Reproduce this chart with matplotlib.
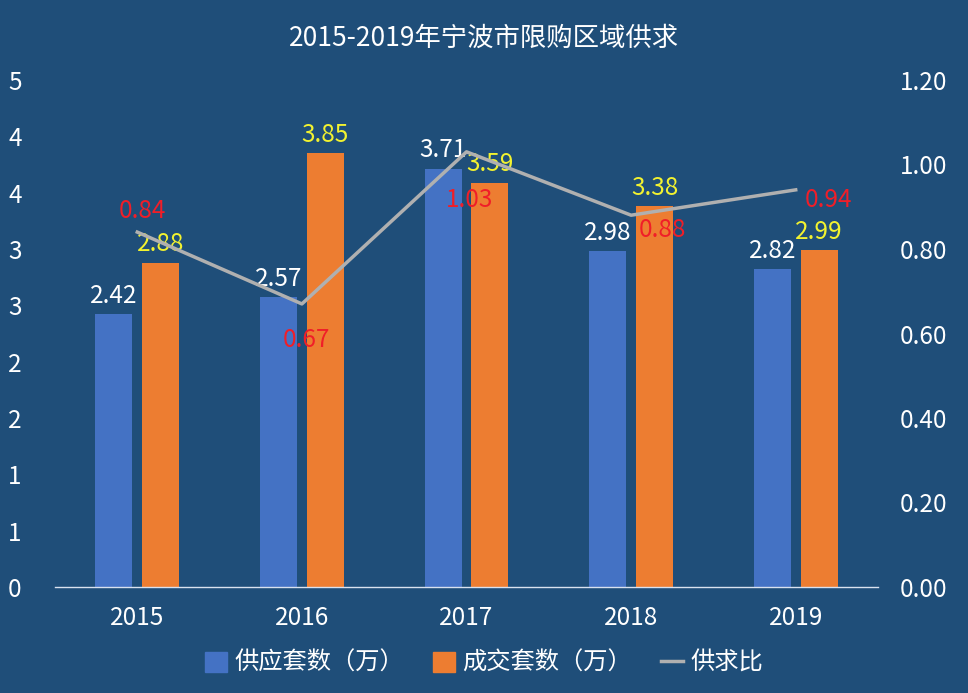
import numpy as np
import matplotlib.pyplot as plt
from matplotlib.ticker import FixedLocator, FuncFormatter
from matplotlib.lines import Line2D
from matplotlib.patches import Patch

plt.rcParams['font.family'] = ['Noto Sans CJK SC', 'DejaVu Sans']

# data
years = ['2015', '2016', '2017', '2018', '2019']
supply = [2.42, 2.57, 3.71, 2.98, 2.82]   # 供应套数（万）
deals = [2.88, 3.85, 3.59, 3.38, 2.99]    # 成交套数（万）
ratio = [0.84, 0.67, 1.03, 0.88, 0.94]    # 供求比
left_ticks = [0, 0.5, 1, 1.5, 2, 2.5, 3, 3.5, 4, 4.5]
right_ticks = [0, 0.2, 0.4, 0.6, 0.8, 1.0, 1.2]

bg = '#1f4e79'
c_blue = '#4472c4'
c_orange = '#ed7d31'
c_line = '#b0b0b0'
c_yellow = '#f2f230'
c_red = '#f01e28'
fs = 17.5

fig = plt.figure(figsize=(9.68, 6.93), dpi=100, facecolor=bg)
ax = fig.add_axes([55/968, 1 - 587/693, (878 - 55)/968, (587 - 80)/693])
ax.set_facecolor(bg)
ax2 = ax.twinx()

x = np.arange(len(years))
w = 0.224
off = 0.142
ax.bar(x - off, supply, w, color=c_blue, zorder=2)
ax.bar(x + off, deals, w, color=c_orange, zorder=2)

ax.set_xlim(-0.5, len(years) - 0.5)
ax.set_ylim(0, 4.5)
ax.yaxis.set_major_locator(FixedLocator(left_ticks))
# Excel-style rounding of the 0.5 steps (0.5 -> 1, 1.5 -> 2 ...)
ax.yaxis.set_major_formatter(FuncFormatter(lambda v, p: '%d' % np.floor(v + 0.5)))
ax.set_xticks(x)
ax.set_xticklabels(years)

ax2.set_ylim(0, 1.2)
ax2.yaxis.set_major_locator(FixedLocator(right_ticks))
ax2.yaxis.set_major_formatter(FuncFormatter(lambda v, p: '%.2f' % v))

for a in (ax, ax2):
    for s in a.spines.values():
        s.set_visible(False)
    a.tick_params(length=0, colors='white', labelsize=fs)
ax.spines['bottom'].set_visible(True)
ax.spines['bottom'].set_color('#d9e2ef')
ax.spines['bottom'].set_linewidth(1.0)
ax.tick_params(axis='y', pad=24)
ax.tick_params(axis='x', pad=13)
ax2.tick_params(axis='y', pad=16)

ax2.plot(x, ratio, color=c_line, lw=2.5, zorder=3)

# bar labels
for xi, v in zip(x, supply):
    ax.annotate('%.2f' % v, (xi - off, v), xytext=(0, 4), textcoords='offset points',
                ha='center', va='bottom', color='white', fontsize=fs, zorder=4)
for xi, v in zip(x, deals):
    ax.annotate('%.2f' % v, (xi + off, v), xytext=(0, 4), textcoords='offset points',
                ha='center', va='bottom', color=c_yellow, fontsize=fs, zorder=4)

# line labels (pixel offsets from the point to the label centre)
line_offsets = [(5, 21), (5, -36), (3, -48), (31, -15), (33, -10)]
for xi, v, (dx, dy) in zip(x, ratio, line_offsets):
    ax2.annotate('%.2f' % v, (xi, v), xytext=(dx, dy), textcoords='offset pixels',
                 ha='center', va='center', color=c_red, fontsize=fs, zorder=5)

fig.text(0.5, 1 - 38/693, '2015-2019年宁波市限购区域供求', ha='center', va='center',
         color='white', fontsize=19)

handles = [Patch(color=c_blue), Patch(color=c_orange),
           Line2D([0], [0], color=c_line, lw=2.5)]
labels = ['供应套数（万）', '成交套数（万）', '供求比']
fig.legend(handles, labels, loc='center', bbox_to_anchor=(0.5, 1 - 663/693), ncol=3,
           frameon=False, fontsize=fs, labelcolor='white', handlelength=0.9,
           handleheight=0.9, handletextpad=0.3, columnspacing=1.2)

fig.savefig('out.png', dpi=100, facecolor=bg)
